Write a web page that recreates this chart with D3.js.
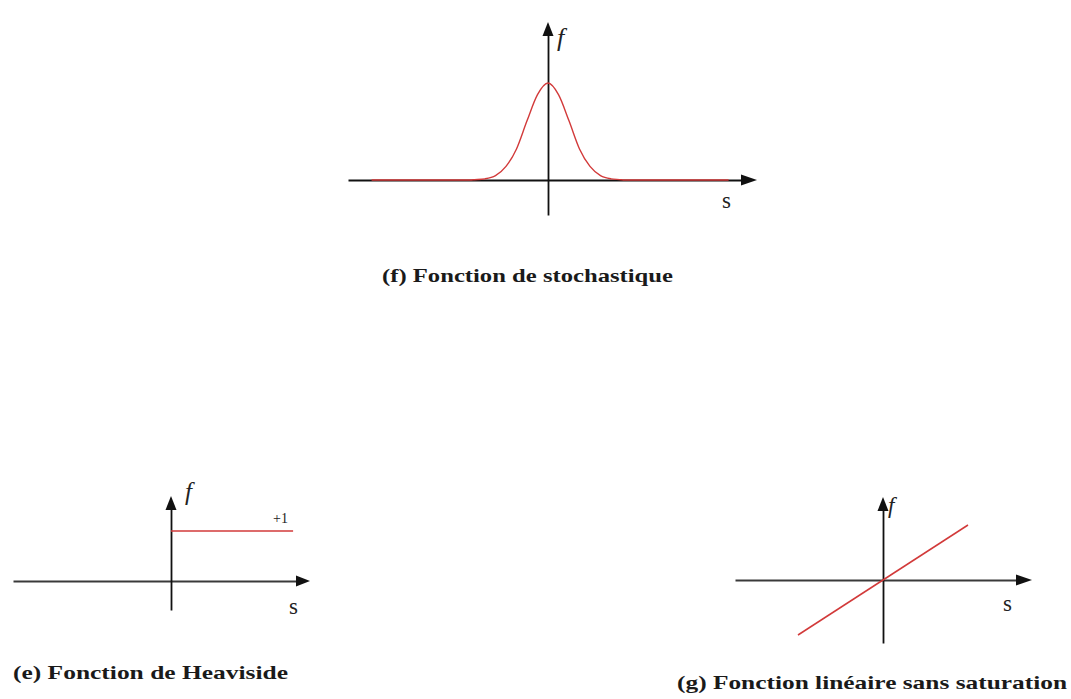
<!DOCTYPE html>
<html>
<head>
<meta charset="utf-8">
<script src="https://cdn.jsdelivr.net/npm/d3@7"></script>
<style>
  html, body { margin: 0; padding: 0; background: #ffffff; }
  svg { display: block; }
</style>
</head>
<body>
<svg id="chart" width="1071" height="699"></svg>
<script>
// ---------- data ----------
// (f) stochastic function: bell-shaped curve (s in units of the curve width)
const stochS = [-8.4, -3.7, -3.5, -3.0, -2.5, -2.0, -1.5, -1.0, -0.5, 0, 0.5, 1.0, 1.5, 2.0, 2.5, 3.0, 3.5, 3.6, 8.6];
const stochF = [0, 0, 0.003, 0.012, 0.045, 0.14, 0.32, 0.61, 0.88, 1, 0.88, 0.61, 0.32, 0.14, 0.045, 0.012, 0.003, 0, 0];
// (e) Heaviside step, positive half
const heavisideS = [0, 4.07];
const heavisideF = [1, 1];
const heavisideLabel = "+1";
// (g) linear function without saturation
const linearS = [-1, 1];
const linearF = [-1, 1];

const titles = ["(f) Fonction de stochastique", "(e) Fonction de Heaviside", "(g) Fonction linéaire sans saturation"];
const axisLabelX = "s";
const axisLabelY = "f";

// ---------- layout ----------
const panels = [
  { key: "f", ox: 548, oy: 180, ux: 21, uy: 97,
    xLeft: 348, xRight: 742, xTip: 757, yBottom: 215, yTop: 35, yTipY: 22,
    sLabel: [722, 208], fLabel: [557, 46], fSize: 26,
    title: [382, 282, 291], hColor: "#111" },
  { key: "e", ox: 171, oy: 581, ux: 30, uy: 50,
    xLeft: 13, xRight: 297, xTip: 310, yBottom: 610, yTop: 509, yTipY: 496,
    sLabel: [289, 614], fLabel: [185, 500], fSize: 25,
    title: [13, 679, 275], hColor: "#3a3a3a" },
  { key: "g", ox: 883, oy: 580, ux: 85, uy: 55,
    xLeft: 735, xRight: 1017, xTip: 1032, yBottom: 643, yTop: 510, yTipY: 497,
    sLabel: [1003, 611], fLabel: [888, 513], fSize: 23,
    title: [677, 689, 390], hColor: "#3a3a3a" }
];

const svg = d3.select("#chart");
const red = "#d23a3a";
const serif = "'Liberation Serif', 'Times New Roman', Times, serif";

function drawPanel(p, i) {
  const g = svg.append("g").attr("class", "panel-" + p.key);
  const x = d3.scaleLinear().domain([0, 1]).range([p.ox, p.ox + p.ux]);
  const y = d3.scaleLinear().domain([0, 1]).range([p.oy, p.oy - p.uy]);

  // horizontal axis (s) — library axis with no ticks
  const xAxisScale = d3.scaleLinear()
    .domain([x.invert(p.xLeft), x.invert(p.xRight)])
    .range([p.xLeft, p.xRight]);
  const xa = g.append("g")
    .attr("transform", `translate(0,${p.oy})`)
    .call(d3.axisBottom(xAxisScale).tickValues([]).tickSizeOuter(0));
  xa.select(".domain").attr("stroke", p.hColor).attr("stroke-width", 1.8);

  // vertical axis (f)
  const yAxisScale = d3.scaleLinear()
    .domain([y.invert(p.yBottom), y.invert(p.yTop)])
    .range([p.yBottom, p.yTop]);
  const ya = g.append("g")
    .attr("transform", `translate(${p.ox},0)`)
    .call(d3.axisLeft(yAxisScale).tickValues([]).tickSizeOuter(0));
  ya.select(".domain").attr("stroke", "#111").attr("stroke-width", 1.8);

  // arrow heads
  g.append("path")
    .attr("d", `M${p.xRight - 1},${p.oy - 5.5}L${p.xTip},${p.oy}L${p.xRight - 1},${p.oy + 5.5}Z`)
    .attr("fill", "#111");
  g.append("path")
    .attr("d", `M${p.ox - 5.5},${p.yTop + 1}L${p.ox},${p.yTipY}L${p.ox + 5.5},${p.yTop + 1}Z`)
    .attr("fill", "#111");

  // function curve
  let sVals, fVals, curve;
  if (p.key === "f") { sVals = stochS; fVals = stochF; curve = d3.curveMonotoneX; }
  else if (p.key === "e") { sVals = heavisideS; fVals = heavisideF; curve = d3.curveLinear; }
  else { sVals = linearS; fVals = linearF; curve = d3.curveLinear; }
  const pts = sVals.map((s, k) => [s, fVals[k]]);
  const line = d3.line().x(d => x(d[0])).y(d => y(d[1])).curve(curve);
  g.append("path")
    .datum(pts)
    .attr("d", line)
    .attr("fill", "none")
    .attr("stroke", red)
    .attr("stroke-width", p.key === "f" ? 1.4 : 1.5);

  if (p.key === "e") {
    g.append("text")
      .attr("x", x(heavisideS[1]) - 20)
      .attr("y", y(1) - 8)
      .attr("font-family", serif)
      .attr("font-size", 14)
      .attr("fill", "#222")
      .text(heavisideLabel);
  }

  // axis labels
  g.append("text")
    .attr("x", p.sLabel[0]).attr("y", p.sLabel[1])
    .attr("font-family", serif)
    .attr("font-size", 23)
    .attr("fill", "#222")
    .text(axisLabelX);
  g.append("text")
    .attr("x", p.fLabel[0]).attr("y", p.fLabel[1])
    .attr("font-family", serif)
    .attr("font-style", "italic")
    .attr("font-size", p.fSize)
    .attr("fill", "#222")
    .text(axisLabelY);

  // caption
  g.append("text")
    .attr("x", p.title[0]).attr("y", p.title[1])
    .attr("textLength", p.title[2])
    .attr("lengthAdjust", "spacingAndGlyphs")
    .attr("font-family", serif)
    .attr("font-weight", "bold")
    .attr("font-size", 19)
    .attr("fill", "#1a1a1a")
    .text(titles[i]);
}

panels.forEach(drawPanel);
</script>
</body>
</html>
